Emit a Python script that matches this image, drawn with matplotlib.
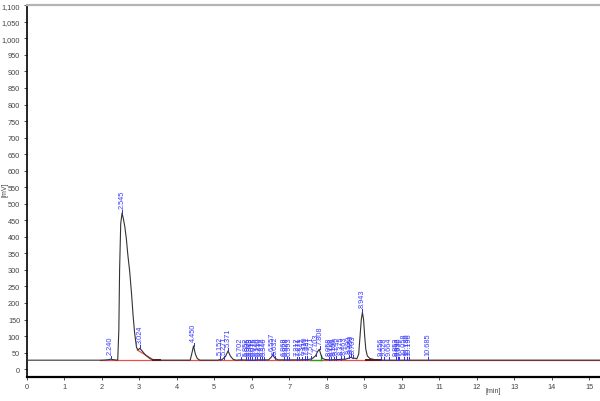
import matplotlib
matplotlib.use("Agg")
import matplotlib.pyplot as plt

plt.rcParams['font.family'] = ['Liberation Sans', 'DejaVu Sans']

# chromatogram trace (time in min, signal in mV)
trace_t = [0.0, 2.00, 2.15, 2.24, 2.35, 2.43, 2.46, 2.48, 2.51, 2.545, 2.58, 2.62, 2.66, 2.70,
           2.75, 2.80, 2.84, 2.88, 2.93, 2.97, 3.02, 3.08, 3.15, 3.22, 3.30, 3.38, 3.50,
           4.36, 4.40, 4.45, 4.50, 4.55, 4.62, 5.10, 5.15, 5.20, 5.30, 5.37, 5.43, 5.50, 5.58,
           5.70, 6.00, 6.20, 6.45, 6.52, 6.56, 6.62, 6.70, 6.90, 7.30, 7.50, 7.60, 7.70, 7.75,
           7.80, 7.84, 7.88, 7.95, 8.10, 8.30, 8.50, 8.60, 8.65, 8.70, 8.75, 8.80, 8.85, 8.88,
           8.92, 8.95, 8.98, 9.01, 9.04, 9.08, 9.15, 9.30, 9.50, 15.28]
trace_mv = [27, 27, 28, 30, 28, 27, 120, 300, 440, 472, 455, 430, 394, 345,
            294, 225, 161, 110, 66, 58, 63, 55, 45, 38, 31, 28, 27,
            27, 45, 70, 45, 32, 27, 27, 29, 28, 38, 55, 40, 30, 27,
            28, 27, 28, 28, 36, 43, 33, 28, 28, 28, 29, 31, 40, 52,
            60, 45, 33, 29, 28, 29, 30, 34, 36, 32, 33, 31, 45, 90,
            150, 172, 150, 100, 60, 40, 32, 28, 27, 27]

# peak retention times (labels) and apex heights (mV)
peak_times = ["2.240", "2.545", "3.024", "4.450", "5.152", "5.271", "5.371",
              "5.702", "5.852", "5.905", "5.948", "6.012", "6.075", "6.140", "6.210",
              "6.272", "6.340", "6.557", "6.632", "6.868", "6.928", "6.993",
              "7.212", "7.271", "7.342", "7.410", "7.481", "7.571", "7.703", "7.808",
              "8.058", "8.118", "8.190", "8.245", "8.375", "8.463", "8.590", "8.650",
              "8.703", "8.943", "9.456", "9.528", "9.664", "9.853", "9.892", "9.930",
              "10.058", "10.130", "10.196", "10.685"]
peak_heights = [30, 472, 63, 70, 29, 30, 55,
                28, 28, 28, 28, 28, 28, 28, 28,
                28, 28, 43, 30, 28, 28, 28,
                28, 28, 28, 29, 29, 30, 40, 60,
                28, 28, 28, 29, 29, 30, 33, 36,
                33, 172, 27, 27, 27, 28, 28, 28,
                28, 28, 28, 27]

baseline_level = 27

fig = plt.figure(figsize=(6.0, 4.02), dpi=100)
ax = fig.add_axes([0.0442, 0.0604, 0.9558, 0.9239])
ax.set_xlim(0, 15.28)
ax.set_ylim(-23, 1100)

# baselines
ax.plot([1.95, 15.28], [baseline_level, baseline_level], color='#e8504a', lw=0.9, zorder=2)
ax.plot([2.95, 3.38], [58, 28], color='#e8504a', lw=0.9, zorder=2)
ax.plot([3.38, 3.55], [27.5, 27.5], color='#6a1010', lw=1.4, zorder=3)
ax.plot([9.05, 9.45], [27.5, 27.5], color='#6a1010', lw=1.4, zorder=3)
ax.plot([7.55, 7.88], [29, 29], color='#20a020', lw=0.9, zorder=3)
ax.plot([7.85, 7.85], [29, 42], color='#20a020', lw=0.9, zorder=3)

# trace
ax.plot(trace_t, trace_mv, color='#333333', lw=0.8, zorder=4)

# peak markers and labels
for lab, h in zip(peak_times, peak_heights):
    t = float(lab)
    ax.plot([t, t], [h, h + 10], color='#3030e0', lw=0.7, zorder=5)
    ax.text(t, h + 16, lab, rotation=90, ha='center', va='bottom',
            fontsize=5.3, color='#3a3aff', zorder=6)

# axes styling
ax.spines['right'].set_visible(False)
ax.spines['top'].set_color('#b4b4b4')
ax.spines['top'].set_linewidth(1.6)
ax.spines['left'].set_color('black')
ax.spines['left'].set_linewidth(1.2)
ax.spines['bottom'].set_color('black')
ax.spines['bottom'].set_linewidth(1.6)

yticks = list(range(0, 1101, 50))
ax.set_yticks(yticks)
ax.set_yticklabels([f"{v:,}" for v in yticks])
ax.set_xticks(list(range(0, 16)))
ax.set_xticklabels([str(v) for v in range(0, 16)])
ax.tick_params(axis='both', labelsize=5.3, labelcolor='#444444', color='#333333',
               length=2.5, width=0.6, pad=2)

fig.text(5 / 600, 1 - 190 / 402, "[mV]", rotation=90, ha='center', va='center',
         fontsize=5, color='#444444')
fig.text(493 / 600, 1 - 392 / 402, "[min]", ha='center', va='center',
         fontsize=5, color='#444444')

fig.savefig("out.png", dpi=100)
